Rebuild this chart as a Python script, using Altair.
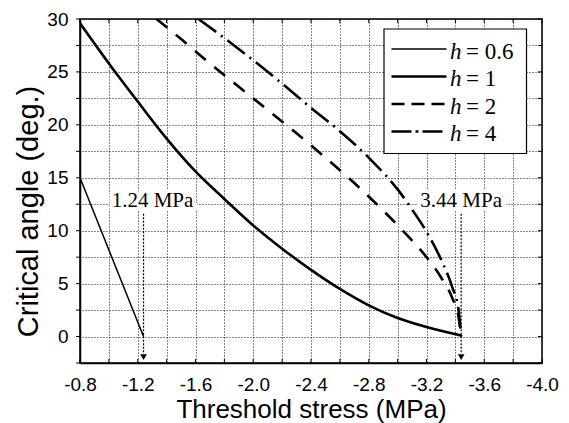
import altair as alt
import pandas as pd

# Critical angle (deg.) against threshold stress (MPa) for several h
h_values = ["0.6", "1", "2", "4"]

h06_stress = [-0.8, -1.24]
h06_angle = [15.0, 0.0]

h1_stress = [-0.8, -1.0, -1.2, -1.4, -1.6, -1.8, -2.0, -2.2, -2.4, -2.6,
             -2.8, -3.0, -3.2, -3.44]
h1_angle = [29.6, 25.8, 22.2, 18.7, 15.6, 13.0, 10.5, 8.3, 6.3, 4.5,
            2.95, 1.75, 0.9, 0.1]

h2_stress = [-1.33, -1.5, -1.7, -1.9, -2.1, -2.3, -2.5, -2.7, -2.9, -3.05,
             -3.2, -3.3, -3.38, -3.42, -3.44]
h2_angle = [30.0, 28.1, 25.8, 23.6, 21.4, 19.2, 16.9, 14.5, 11.9, 9.8,
            7.5, 5.6, 3.6, 2.0, 0.0]

h4_stress = [-1.62, -1.8, -2.0, -2.2, -2.4, -2.6, -2.8, -3.0, -3.1, -3.2,
             -3.3, -3.38, -3.42, -3.44]
h4_angle = [30.0, 28.2, 26.1, 23.9, 21.6, 19.4, 16.9, 13.9, 12.0, 9.9,
            7.3, 4.6, 2.7, 0.0]

stress_lists = [h06_stress, h1_stress, h2_stress, h4_stress]
angle_lists = [h06_angle, h1_angle, h2_angle, h4_angle]

# Marked threshold stresses
marker_stress = [-1.24, -3.44]
marker_text = ["1.24 MPa", "3.44 MPa"]

# Tick positions
x_ticks = [-0.8, -1.0, -1.2, -1.4, -1.6, -1.8, -2.0, -2.2, -2.4, -2.6, -2.8,
           -3.0, -3.2, -3.4, -3.6, -3.8, -4.0]
y_ticks = [-2.5, 0, 2.5, 5, 7.5, 10, 12.5, 15, 17.5, 20, 22.5, 25, 27.5, 30]

W, H = 462, 344
SANS = "Liberation Sans"
SERIF = "Liberation Serif"

x_scale = alt.Scale(domain=[-4.0, -0.8], reverse=True, nice=False, zero=False)
y_scale = alt.Scale(domain=[-2.5, 30], nice=False, zero=False)

line_widths = [1.5, 2.6, 2.6, 2.6]
plot_dashes = [None, None, [14, 11], [22, 6, 2, 6]]
legend_dashes = [None, None, [13, 7], [20, 4, 3, 4]]

x_axis = alt.Axis(
    values=x_ticks,
    labelExpr="abs(round(datum.value * 10)) % 4 == 0 ? '-' + format(abs(datum.value), '.1f') : ''",
    title="Threshold stress (MPa)",
    ticks=False, labelPadding=12, labelFlush=False, labelOverlap=False,
    grid=True, gridDash=[1, 2], gridColor="#111", gridWidth=1,
    domainColor="black", domainWidth=1.5,
    labelFont=SANS, labelFontSize=19, labelColor="black",
    titleFont=SANS, titleFontSize=26, titleFontWeight="normal", titleColor="black",
    titleX=W / 2, titleY=54, titleBaseline="alphabetic", titleAlign="center",
)
y_axis = alt.Axis(
    values=y_ticks,
    labelExpr="datum.value % 5 == 0 ? format(datum.value, 'd') : ''",
    title="Critical angle (deg.)",
    ticks=False, labelPadding=12, labelFlush=False, labelOverlap=False,
    grid=True, gridDash=[1, 2], gridColor="#111", gridWidth=1,
    domainColor="black", domainWidth=1.5,
    labelFont=SANS, labelFontSize=19, labelColor="black",
    titleFont=SANS, titleFontSize=29, titleFontWeight="normal", titleColor="black",
    titleAngle=270, titleX=-43, titleY=192, titleBaseline="alphabetic", titleAlign="center",
)


def X(field):
    return alt.X(field, scale=x_scale, axis=x_axis)


def Y(field):
    return alt.Y(field, scale=y_scale, axis=y_axis)


layers = []

# Curves
for i, (h, xs, ys) in enumerate(zip(h_values, stress_lists, angle_lists)):
    df = pd.DataFrame({"stress": xs, "angle": ys, "h": h})
    kw = dict(color="black", strokeWidth=line_widths[i], clip=True,
              interpolate="linear" if i == 0 else "monotone")
    if plot_dashes[i]:
        kw["strokeDash"] = plot_dashes[i]
    layers.append(
        alt.Chart(df).mark_line(**kw).encode(
            x=X("stress:Q"), y=Y("angle:Q"),
            order=alt.Order("stress:Q", sort="descending"),
        )
    )

# Small tick marks along the frame
tx = pd.DataFrame({"stress": x_ticks})
ty = pd.DataFrame({"angle": y_ticks})
for y0, y1 in [(H, H - 4), (0, 4)]:
    layers.append(alt.Chart(tx).mark_rule(color="black", strokeWidth=1).encode(
        x=X("stress:Q"), y=alt.value(y0), y2=alt.value(y1)))
for x0, x1 in [(0, -4), (W, W - 4)]:
    layers.append(alt.Chart(ty).mark_rule(color="black", strokeWidth=1).encode(
        y=Y("angle:Q"), x=alt.value(x0), x2=alt.value(x1)))

# Dotted arrows marking the threshold stresses
ann = pd.DataFrame({"stress": marker_stress, "label": marker_text})
layers.append(
    alt.Chart(ann).transform_calculate(top="11.6", bottom="-1.6")
    .mark_rule(color="black", strokeWidth=1.2, strokeDash=[2, 1.5])
    .encode(x=X("stress:Q"), y=Y("top:Q"), y2="bottom:Q")
)
layers.append(
    alt.Chart(ann).transform_calculate(tip="-1.95")
    .mark_point(shape="triangle-down", filled=True, size=45, color="black", opacity=1)
    .encode(x=X("stress:Q"), y=Y("tip:Q"))
)

# Arrow labels with a white halo over the grid
for cond, dx in [("datum.stress > -2", 9), ("datum.stress < -2", 0)]:
    for halo in (True, False):
        style = dict(font=SERIF, fontSize=21, align="center", baseline="alphabetic", dx=dx, dy=3)
        if halo:
            style.update(color="white", stroke="white", strokeWidth=8)
        else:
            style.update(color="black")
        layers.append(
            alt.Chart(ann).transform_filter(cond).transform_calculate(level="12.5")
            .mark_text(**style)
            .encode(x=X("stress:Q"), y=Y("level:Q"), text="label:N")
        )

# Legend box
one = pd.DataFrame({"k": [0]})
layers.append(
    alt.Chart(one).mark_rect(fill="white", stroke="black", strokeWidth=1.2).encode(
        x=alt.value(304), x2=alt.value(446.5), y=alt.value(10), y2=alt.value(134.5))
)
for i, h in enumerate(h_values):
    yrow = 30 + 27.5 * i
    kw = dict(color="black", strokeWidth=line_widths[i])
    if legend_dashes[i]:
        kw["strokeDash"] = legend_dashes[i]
    layers.append(alt.Chart(one).mark_rule(**kw).encode(
        x=alt.value(311.5), x2=alt.value(366.5), y=alt.value(yrow)))
    layers.append(alt.Chart(one).mark_text(
        text="h", font=SERIF, fontStyle="italic", fontSize=23, align="left",
        baseline="alphabetic", color="black").encode(x=alt.value(370), y=alt.value(yrow + 9.5)))
    layers.append(alt.Chart(one).mark_text(
        text="= " + h, font=SERIF, fontSize=23, align="left",
        baseline="alphabetic", color="black").encode(x=alt.value(386), y=alt.value(yrow + 9.5)))

chart = alt.layer(*layers).properties(
    width=W, height=H,
    autosize=alt.AutoSizeParams(type="none"),
    padding={"left": 80, "top": 19, "right": 27, "bottom": 60},
    background="white",
).configure_view(stroke="black", strokeWidth=1.5)

chart.save("out.html", embed_options={"renderer": "svg", "actions": False})
